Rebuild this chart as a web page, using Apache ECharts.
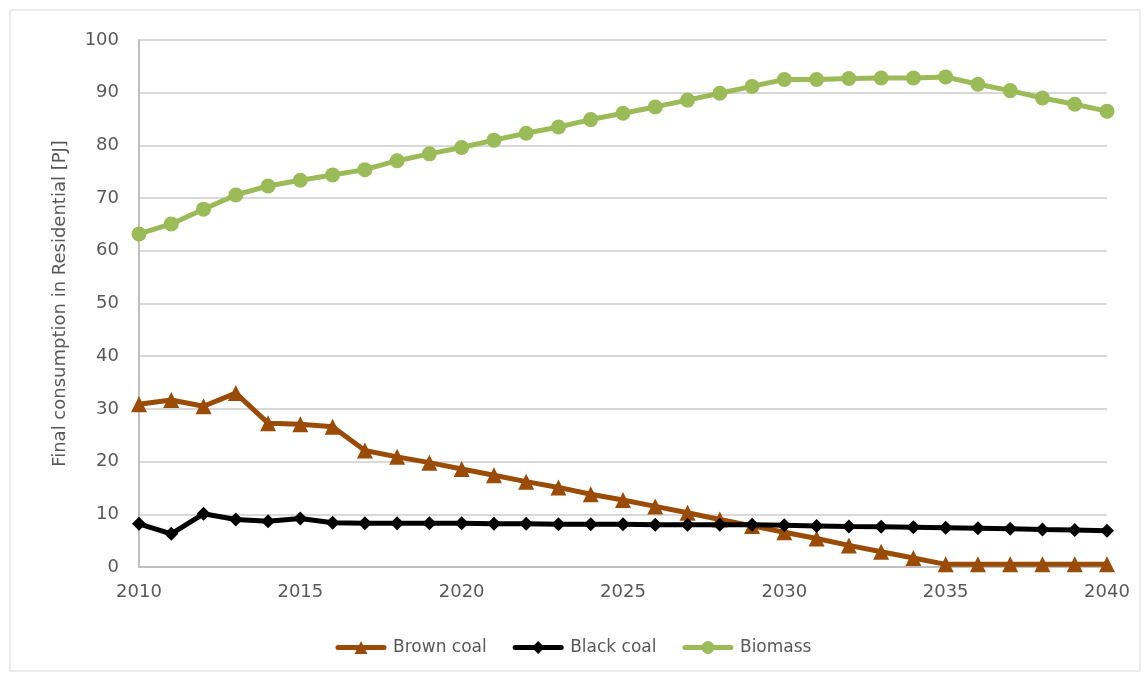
<!DOCTYPE html>
<html>
<head>
<meta charset="utf-8">
<script src="https://cdn.jsdelivr.net/npm/echarts@6/dist/echarts.min.js"></script>
<style>
  html, body { margin: 0; padding: 0; background: #fff; }
  #chart { width: 1147px; height: 675px; }
</style>
</head>
<body>
<div id="chart"></div>
<script>
var years = [];
for (var y = 2010; y <= 2040; y++) years.push(y);

var brownCoal = [30.9, 31.7, 30.5, 33.0, 27.3, 27.1, 26.6, 22.1, 20.9, 19.8, 18.6, 17.4, 16.2, 15.1, 13.8, 12.7, 11.5, 10.3, 9.0, 7.8, 6.6, 5.4, 4.1, 2.9, 1.7, 0.5, 0.5, 0.5, 0.5, 0.5, 0.5];
var blackCoal = [8.2, 6.3, 10.1, 9.0, 8.7, 9.2, 8.4, 8.3, 8.3, 8.3, 8.3, 8.2, 8.2, 8.1, 8.1, 8.1, 8.0, 8.0, 8.0, 8.0, 7.9, 7.8, 7.7, 7.65, 7.55, 7.45, 7.35, 7.25, 7.1, 7.0, 6.9];
var biomass = [63.2, 65.1, 67.9, 70.6, 72.3, 73.4, 74.4, 75.4, 77.1, 78.4, 79.6, 81.0, 82.3, 83.5, 84.9, 86.1, 87.3, 88.6, 89.9, 91.2, 92.5, 92.5, 92.7, 92.8, 92.8, 93.0, 91.6, 90.4, 89.0, 87.8, 86.5];

function pairs(vals) {
  return vals.map(function (v, i) { return [years[i], v]; });
}

var chart = echarts.init(document.getElementById("chart"));
var font = "DejaVu Sans";

var option = {
  animation: false,
  color: ["#9A4B06", "#000000", "#9BBB59"],
  graphic: [{
    type: "rect",
    shape: { x: 10, y: 10, width: 1130, height: 661 },
    style: { fill: "none", stroke: "#d9d9d9", lineWidth: 1 }
  }],
  grid: { left: 139, right: 40, top: 40, bottom: 108 },
  legend: {
    bottom: 14,
    left: "center",
    itemWidth: 46,
    itemHeight: 16,
    itemGap: 26,
    lineStyle: { width: 5, cap: "round" },
    textStyle: { fontFamily: font, fontSize: 17, color: "#595959", padding: [0, 0, 0, 4] },
    data: ["Brown coal", "Black coal", "Biomass"]
  },
  xAxis: {
    type: "value",
    min: 2010,
    max: 2040,
    interval: 5,
    axisLine: { show: true, lineStyle: { color: "#bfbfbf", width: 2 } },
    axisTick: { show: false },
    splitLine: { show: false },
    axisLabel: {
      fontFamily: font, fontSize: 18, color: "#595959", margin: 16,
      formatter: function (v) { return String(v); }
    }
  },
  yAxis: {
    type: "value",
    min: 0,
    max: 100,
    interval: 10,
    name: "Final consumption in Residential [PJ]",
    nameLocation: "middle",
    nameGap: 70,
    nameTextStyle: { fontFamily: font, fontSize: 18, color: "#595959" },
    axisLine: { show: true, lineStyle: { color: "#bfbfbf", width: 2 } },
    axisTick: { show: false },
    splitLine: { lineStyle: { color: "#d9d9d9", width: 2 } },
    axisLabel: { fontFamily: font, fontSize: 18, color: "#595959", margin: 20 }
  },
  series: [
    {
      name: "Brown coal",
      type: "line",
      data: pairs(brownCoal),
      symbol: "triangle",
      symbolSize: 16,
      lineStyle: { width: 5 },
      z: 3
    },
    {
      name: "Black coal",
      type: "line",
      data: pairs(blackCoal),
      symbol: "diamond",
      symbolSize: 14,
      lineStyle: { width: 5 },
      z: 4
    },
    {
      name: "Biomass",
      type: "line",
      data: pairs(biomass),
      symbol: "circle",
      symbolSize: 15,
      lineStyle: { width: 5 },
      z: 2
    }
  ]
};

chart.setOption(option);
</script>
</body>
</html>
